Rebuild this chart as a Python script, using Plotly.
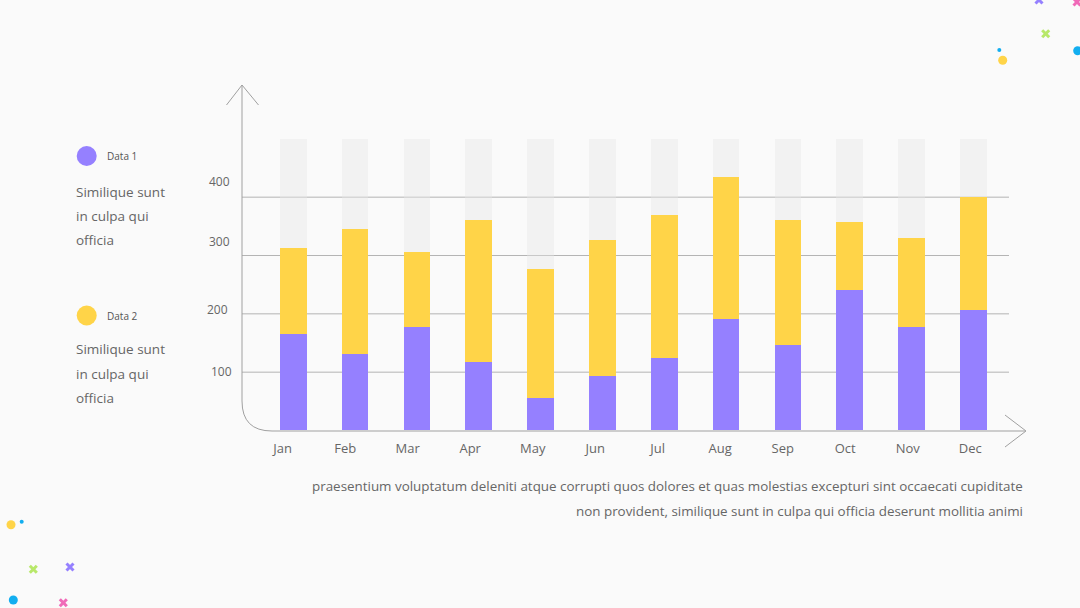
import plotly.graph_objects as go

months = ["Jan", "Feb", "Mar", "Apr", "May", "Jun", "Jul", "Aug", "Sep", "Oct", "Nov", "Dec"]
data1 = [165, 132, 177, 117, 56, 93, 124, 191, 147, 241, 177, 207]
data2 = [148, 214, 129, 244, 221, 234, 246, 244, 214, 117, 153, 193]
track = [500] * 12
grid_values = [100, 200, 300, 400]
ytick_labels = ["100", "200", "300", "400"]
series_names = ["Data 1", "Data 2"]
desc = ["Similique sunt", "in culpa qui", "officia"]
footer = ["praesentium voluptatum deleniti atque corrupti quos dolores et quas molestias excepturi sint occaecati cupiditate",
          "non provident, similique sunt in culpa qui officia deserunt mollitia animi"]

PURPLE = "#9580FF"
YELLOW = "#FFD448"
BG = "#FAFAFA"
TXT = "#666666"
W, H = 1080, 608


def px(x):
    return x / W


def py(y):
    return 1 - y / H


fig = go.Figure()
fig.add_trace(go.Bar(x=months, y=track, marker=dict(color="#E8E8E8", line=dict(width=0)), opacity=0.4,
                     width=0.432, hoverinfo="skip", showlegend=False))
fig.add_trace(go.Bar(x=months, y=data1, name=series_names[0], marker=dict(color=PURPLE, line=dict(width=0)),
                     width=0.432, showlegend=False))
fig.add_trace(go.Bar(x=months, y=data2, base=data1, name=series_names[1], marker=dict(color=YELLOW, line=dict(width=0)),
                     width=0.432, showlegend=False))
# invisible trace carrying the month labels axis
fig.add_trace(go.Scatter(x=months, y=[0] * 12, xaxis="x2", mode="markers", marker=dict(opacity=0),
                         hoverinfo="skip", showlegend=False))

shapes = []
# gridlines
for v in grid_values:
    shapes.append(dict(type="line", xref="paper", yref="y", x0=px(242), x1=px(1009), y0=v, y1=v,
                       line=dict(color="#B4B4B4", width=1), layer="below"))
# axis path with rounded corner
shapes.append(dict(type="path", xref="paper", yref="paper",
                   path=f"M {px(242)},{py(85)} L {px(242)},{py(401)} Q {px(242)},{py(431)} {px(272)},{py(431)} L {px(1025)},{py(431)}",
                   line=dict(color="#A0A0A0", width=1)))
shapes.append(dict(type="path", xref="paper", yref="paper",
                   path=f"M {px(226.5)},{py(105)} L {px(242)},{py(85)} L {px(258.5)},{py(105)}",
                   line=dict(color="#A0A0A0", width=1)))
shapes.append(dict(type="path", xref="paper", yref="paper",
                   path=f"M {px(1005)},{py(415)} L {px(1026)},{py(431)} L {px(1005)},{py(447)}",
                   line=dict(color="#A0A0A0", width=1)))


def circle(cx, cy, r, color):
    shapes.append(dict(type="circle", xref="paper", yref="paper", x0=px(cx - r), x1=px(cx + r),
                       y0=py(cy + r), y1=py(cy - r), fillcolor=color, line=dict(width=0)))


def cross(cx, cy, a, color):
    shapes.append(dict(type="line", xref="paper", yref="paper", x0=px(cx - a), y0=py(cy - a), x1=px(cx + a), y1=py(cy + a),
                       line=dict(color=color, width=3)))
    shapes.append(dict(type="line", xref="paper", yref="paper", x0=px(cx - a), y0=py(cy + a), x1=px(cx + a), y1=py(cy - a),
                       line=dict(color=color, width=3)))


# legend dots
circle(86.7, 156, 10, PURPLE)
circle(86.7, 315.5, 10, YELLOW)

# decorations
CYAN = "#12AEF0"
GREEN = "#B8E86A"
PINK = "#F06AB8"
cross(1039, 0, 3.5, PURPLE)
cross(1077, 2, 3.5, PINK)
cross(1045.7, 33.7, 3.5, GREEN)
circle(999.3, 50, 2, CYAN)
circle(1002.7, 60.3, 4.5, YELLOW)
circle(1077.7, 50.7, 4.5, CYAN)
circle(11, 524.7, 4.5, YELLOW)
circle(21.7, 521.7, 2, CYAN)
cross(33.3, 569.3, 3.5, GREEN)
cross(70, 567, 3.5, PURPLE)
circle(13.3, 600, 4.5, CYAN)
cross(63.3, 602.7, 3.5, PINK)

annotations = []
FONT = "Open Sans"
# y tick labels
ytick_pos = [(221.5, 371.7), (217, 309), (219, 241.7), (219, 181.7)]
for lab, (x, y) in zip(ytick_labels, ytick_pos):
    annotations.append(dict(text=lab, xref="paper", yref="paper", x=px(x), y=py(y), xanchor="center",
                            yanchor="middle", showarrow=False, font=dict(family=FONT, size=12, color=TXT)))
# legend text
for name, cy, ty in [(series_names[0], 156, 191.7), (series_names[1], 315.5, 349.3)]:
    annotations.append(dict(text=name, xref="paper", yref="paper", x=px(105), y=py(cy), xanchor="left",
                            yanchor="middle", showarrow=False, font=dict(family=FONT, size=10, color="#555555")))
    for i, line in enumerate(desc):
        annotations.append(dict(text=line, xref="paper", yref="paper", x=px(74), y=py(ty + i * 24.3),
                                xanchor="left", yanchor="middle", showarrow=False,
                                font=dict(family=FONT, size=13.5, color=TXT)))
# footer
for i, line in enumerate(footer):
    annotations.append(dict(text=line, xref="paper", yref="paper", x=px(1025), y=py(486 + i * 25),
                            xanchor="right", yanchor="middle", showarrow=False,
                            font=dict(family=FONT, size=13.4, color=TXT)))

fig.update_layout(
    width=W, height=H,
    margin=dict(l=0, r=0, t=0, b=0),
    paper_bgcolor=BG, plot_bgcolor=BG,
    barmode="overlay",
    bargap=0,
    xaxis=dict(domain=[0, 1], range=[-4.745, 12.726], visible=False, type="category", categoryarray=months),
    xaxis2=dict(overlaying="x", anchor="free", position=py(439), range=[-4.523, 12.757], type="category",
                categoryarray=months, showgrid=False, zeroline=False, showline=False, ticks="",
                tickfont=dict(family=FONT, size=13, color=TXT), side="bottom"),
    yaxis=dict(domain=[0, 1], range=[-304.3, 738.0], visible=False),
    shapes=shapes,
    annotations=annotations,
    font=dict(family=FONT),
)

fig.write_html("out.html")
